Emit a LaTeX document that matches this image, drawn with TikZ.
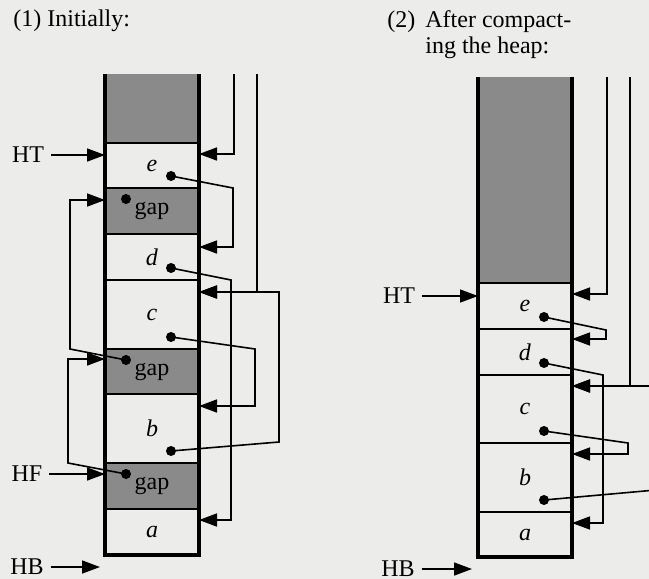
\documentclass[tikz,border=0pt]{standalone}
\usepackage{fontspec}
\setmainfont{Liberation Serif}
\usetikzlibrary{arrows.meta,positioning,calc}
\definecolor{pagecolor}{RGB}{236,236,234}
\definecolor{heapgray}{RGB}{138,138,138}

\tikzset{
  cell/.style={draw, line width=1pt, minimum width=47pt, inner sep=0pt, outer sep=0pt},
  usedspace/.style={fill=heapgray, minimum width=47pt, inner sep=0pt, outer sep=0pt},
  heapwall/.style={line width=1.7pt},
  ptr/.style={line width=0.8pt, -{Triangle[length=9pt,width=6.5pt]}},
  dot/.style={circle, fill=black, inner sep=0pt, minimum size=5pt}
}

\begin{document}
\begin{tikzpicture}[x=0.5pt, y=-0.5pt, font=\fontsize{12}{13}\selectfont]

% Page
\useasboundingbox (0,0) rectangle (649,579);
\fill[pagecolor] (0,0) rectangle (649,579);
\clip (0,0) rectangle (649,579);

% Titles
\node[anchor=base west, inner sep=0pt] (title1) at (13,26) {(1) Initially:};
\node[anchor=base west, inner sep=0pt] (title2) at (387,27)
  {\begin{tabular}[t]{@{}l@{\hspace{5pt}}l}(2) & After compact-\\ & ing the heap:\end{tabular}};

% Left heap
\node[usedspace, minimum height=34.5pt] (Ltop) at (152,108.5) {};
\foreach \n/\t/\b/\f/\lab in {
  Le/143/188/pagecolor/\textit{e},
  Lg1/188/234/heapgray/gap,
  Ld/234/280/pagecolor/\textit{d},
  Lc/280/349/pagecolor/\textit{c},
  Lg2/349/394/heapgray/gap,
  Lb/394/463/pagecolor/\textit{b},
  Lg3/463/509/heapgray/gap,
  La/509/555/pagecolor/\textit{a}} {
  \node[cell, fill=\f, minimum height={(\b-\t)*0.5pt}] (\n) at (152,{(\t+\b)/2}) {\lab};
}
\draw[heapwall] (Ltop.north west) -- (La.south west) -- (La.south east) -- (Ltop.north east);

% Right heap
\node[usedspace, minimum height=103pt] (Rtop) at (525,180) {};
\foreach \n/\t/\b/\lab in {
  Re/283/329/\textit{e},
  Rd/329/375/\textit{d},
  Rc/375/443/\textit{c},
  Rb/443/512/\textit{b},
  Ra/512/557/\textit{a}} {
  \node[cell, fill=pagecolor, minimum height={(\b-\t)*0.5pt}] (\n) at (525,{(\t+\b)/2}) {\lab};
}
\draw[heapwall] (Rtop.north west) -- (Ra.south west) -- (Ra.south east) -- (Rtop.north east);

% Dots
\foreach \n in {Le,Ld,Lc,Lb,Re,Rd,Rc,Rb}
  \node[dot] (\n-dot) at ($(\n.south west)+(66,-12)$) {};
\foreach \n in {Lg1,Lg2,Lg3}
  \node[dot] (\n-dot) at ($(\n.north west)+(21,11)$) {};

% Heap registers
\node (LHT) at (28,155) {HT};
\node (LHF) at (27,474) {HF};
\node (LHB) at (27,567) {HB};
\node (RHT) at (399,296) {HT};
\node (RHB) at (398,569) {HB};
\draw[ptr] (LHT) -- (LHT -| Le.west);
\draw[ptr] (LHF) -- (LHF -| Lg3.west);
\draw[ptr] (LHB) -- ($(LHB -| La.west)+(-5,0)$);
\draw[ptr] (RHT) -- (RHT -| Re.west);
\draw[ptr] (RHB) -- ($(RHB -| Ra.west)+(-6,0)$);

% Roots
\coordinate (Lroot1) at (234,74);
\coordinate (Lroot2) at (257,74);
\coordinate (Rroot1) at (607,77);
\coordinate (Rroot2) at (630,77);
\draw[ptr] (Lroot1) |- ($(Le.north east)+(0,11)$);
\draw[ptr] (Lroot2) |- ($(Lc.north east)+(0,12)$);
\draw[ptr] (Rroot1) |- ($(Re.north east)+(0,11)$);
\draw[ptr] (Rroot2) |- ($(Rc.north east)+(0,11)$);

% Pointers (1)
\draw[ptr] (Le-dot.center) -- ($(Le.south east)+(34,0)$) |- ($(Ld.north east)+(0,13)$);
\draw[ptr] (Ld-dot.center) -- ($(Ld.south east)+(32,0)$) |- ($(La.north east)+(0,11)$);
\draw[ptr] (Lc-dot.center) -- ($(Lc.south east)+(56,0)$) |- ($(Lb.north east)+(0,12)$);
\draw[ptr] (Lb-dot.center) -- ($(Lb.south east)+(80,-21)$) |- ($(Lc.north east)+(0,12)$);

% Free list
\draw[ptr] (Lg3-dot.center) -- ($(Lg3.north west)+(-37,0)$) |- ($(Lg2.north west)+(0,10)$);
\draw[ptr] (Lg2-dot.center) -- ($(Lg2.north west)+(-35,0)$) |- ($(Lg1.north west)+(0,12)$);

% Pointers (2)
\draw[ptr] (Re-dot.center) -- ($(Re.south east)+(34,1)$) |- ($(Rd.north east)+(0,10)$);
\draw[ptr] (Rd-dot.center) -- ($(Rd.south east)+(31,0)$) |- ($(Ra.north east)+(0,11)$);
\draw[ptr] (Rc-dot.center) -- ($(Rc.south east)+(56,0)$) |- ($(Rb.north east)+(0,11)$);
\draw[ptr] (Rb-dot.center) -- ($(Rb.south east)+(95,-23)$) |- ($(Rc.north east)+(0,11)$);

\end{tikzpicture}
\end{document}
